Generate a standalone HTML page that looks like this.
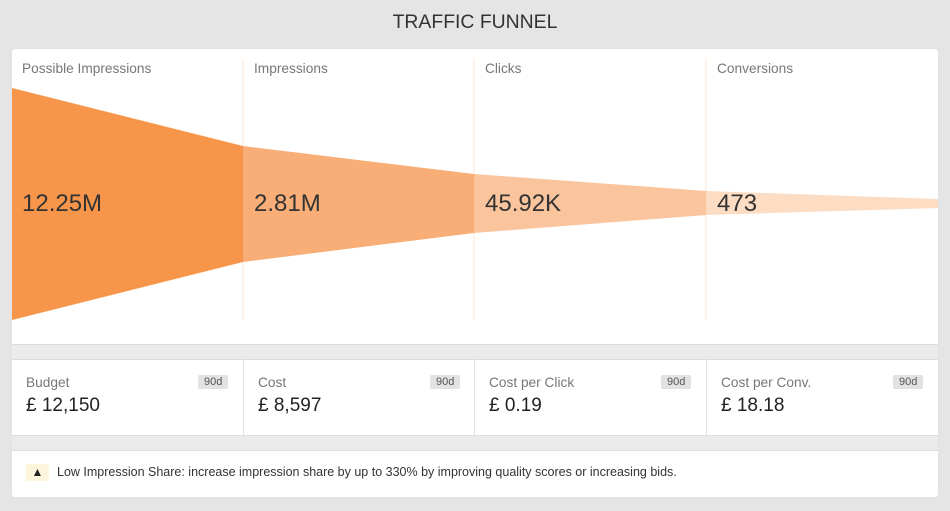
<!DOCTYPE html>
<html><head><style>
body{margin:0;width:950px;height:511px;background:#e5e5e5;font-family:"Liberation Sans",sans-serif;position:relative;overflow:hidden}
.t{position:absolute;top:11px;left:0;width:950px;text-align:center;font-size:19.4px;color:#333}
.card{position:absolute;left:12px;top:49px;width:926px;height:448px;background:#fff;border-radius:3px;box-shadow:0 0 1px #ccc}
.band{position:absolute;left:0;width:926px;height:14px;background:#ebebeb;border-top:1px solid #ddd;border-bottom:1px solid #ddd}
.lab{position:absolute;font-size:13.7px;color:#777}
.val{position:absolute;font-size:24px;color:#333}
.sl{position:absolute;font-size:13.7px;color:#777;top:326px}
.sv{position:absolute;font-size:19px;color:#222;top:346px}
.b{position:absolute;top:326px;font-size:11px;color:#555;background:#e2e2e2;border-radius:2px;padding:1px 6px}
.vd{position:absolute;top:310px;height:76px;width:1px;background:#e2e2e2}
</style></head><body>
<div class="t">TRAFFIC FUNNEL</div>
<div class="card">
<svg width="926" height="295" style="position:absolute;left:0;top:0">
<line x1="231" y1="10" x2="231" y2="271" stroke="#fde6d6"/>
<line x1="462" y1="10" x2="462" y2="271" stroke="#fde6d6"/>
<line x1="694" y1="10" x2="694" y2="271" stroke="#fde6d6"/>
<polygon points="0,39 231,97 231,213 0,271" fill="#f7964a"/>
<polygon points="231,97 462,125 462,184 231,213" fill="#f8ae76"/>
<polygon points="462,125 694,142 694,166 462,184" fill="#fac49d"/>
<polygon points="694,142 926,150 926,159 694,166" fill="#fcdcc3"/>
</svg>
<div class="lab" style="left:10px;top:12px">Possible Impressions</div>
<div class="lab" style="left:242px;top:12px">Impressions</div>
<div class="lab" style="left:473px;top:12px">Clicks</div>
<div class="lab" style="left:705px;top:12px">Conversions</div>
<div class="val" style="left:10px;top:141px">12.25M</div>
<div class="val" style="left:242px;top:141px">2.81M</div>
<div class="val" style="left:473px;top:141px">45.92K</div>
<div class="val" style="left:705px;top:141px">473</div>
<div class="band" style="top:295px"></div>
<div class="vd" style="left:231px"></div><div class="vd" style="left:462px"></div><div class="vd" style="left:694px"></div>
<div class="sl" style="left:14px">Budget</div><div class="sv" style="left:14px">£ 12,150</div><div class="b" style="left:186px">90d</div>
<div class="sl" style="left:246px">Cost</div><div class="sv" style="left:246px">£ 8,597</div><div class="b" style="left:418px">90d</div>
<div class="sl" style="left:477px">Cost per Click</div><div class="sv" style="left:477px">£ 0.19</div><div class="b" style="left:649px">90d</div>
<div class="sl" style="left:709px">Cost per Conv.</div><div class="sv" style="left:709px">£ 18.18</div><div class="b" style="left:881px">90d</div>
<div class="band" style="top:386px"></div>
<div style="position:absolute;left:14px;top:415px;width:23px;height:17px;background:#fdf5dc;border-radius:2px;text-align:center;font-size:12px;line-height:17px;color:#222">▲</div>
<div style="position:absolute;left:45px;top:416px;font-size:12.5px;color:#333">Low Impression Share: increase impression share by up to 330% by improving quality scores or increasing bids.</div>
</div>
</body></html>
